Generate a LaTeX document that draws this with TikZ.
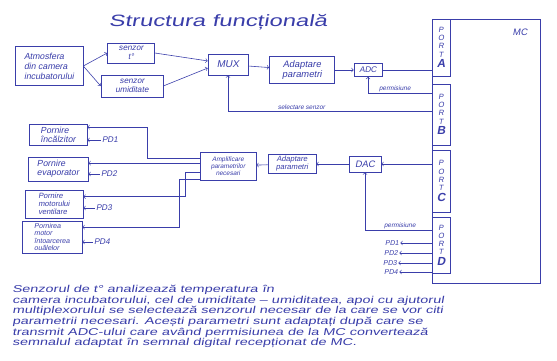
\documentclass[tikz,border=0pt]{standalone}
\usepackage{fontspec}
\setmainfont{Liberation Sans}[FakeSlant=0.18]
\newfontfamily\widehand{Liberation Sans}[FakeSlant=0.18,FakeStretch=1.45,Ligatures=TeX]
\usetikzlibrary{positioning, arrows}
\definecolor{ink}{RGB}{58,62,170}
\tikzstyle{blk}=[draw, inner sep=1pt, align=center, font=\fontsize{7}{7.5}\selectfont]
\tikzstyle{outbox}=[draw, inner sep=2pt, align=left, font=\fontsize{7.5}{8}\selectfont]
\tikzstyle{port}=[draw, fill=white, minimum width=0.54cm, inner sep=0pt, align=center, font=\fontsize{6.5}{7}\selectfont]
\tikzstyle{lbl}=[inner sep=1pt, font=\fontsize{5.5}{6}\selectfont]

\begin{document}
\begin{tikzpicture}[x=0.03cm, y=-0.03cm, > = to, color=ink, line width=0.5pt]
  \fill[white] (0,0) rectangle (557,360);
  \useasboundingbox (0,0) rectangle (557,360);
  \node (title) [font=\widehand\fontsize{14}{14}\selectfont] at (218,22) {Structura funcțională};

  % acquisition
  \node [blk, minimum width=2.04cm, minimum height=1.17cm, align=left, font=\fontsize{7.5}{8.5}\selectfont] (atm) at (49,66) {Atmosfera\\din camera\\incubatorului};
  \node [blk, minimum width=1.41cm, minimum height=0.6cm] (st) at (131,53) {senzor\\t°};
  \node [blk, minimum width=1.86cm, minimum height=0.66cm] (su) at (132,86) {senzor\\umiditate};
  \node [blk, minimum width=1.2cm, minimum height=0.63cm, font=\fontsize{8.5}{8.5}\selectfont] (mux) at (228,64.5) {MUX};
  \node [blk, minimum width=1.95cm, minimum height=0.81cm, font=\fontsize{8}{8.5}\selectfont] (adp1) at (302,70) {Adaptare\\parametri};
  \node [blk, minimum width=0.84cm, minimum height=0.39cm] (adc) at (368,70) {ADC};

  % MC and ports
  \node [draw, minimum width=3.24cm, minimum height=7.92cm] (mc) at (486,151) {};
  \node [lbl, font=\fontsize{8}{8}\selectfont] (mclbl) at (520,32) {MC};
  \node [port, minimum height=1.71cm] (pa) at (441,47.5) {P\\O\\R\\T\\[2pt]{\fontsize{10}{10}\selectfont\bfseries A}};
  \node [port, minimum height=1.83cm] (pb) at (441,114.5) {P\\O\\R\\T\\[2pt]{\fontsize{10}{10}\selectfont\bfseries B}};
  \node [port, minimum height=1.86cm] (pc) at (441,181) {P\\O\\R\\T\\[2pt]{\fontsize{10}{10}\selectfont\bfseries C}};
  \node [port, minimum height=1.68cm] (pd) at (441,245) {P\\O\\R\\T\\[2pt]{\fontsize{10}{10}\selectfont\bfseries D}};

  \draw[->] (atm.east) -- (st.west);
  \draw[->] (atm.east) -- (su.west);
  \draw[->] (st.east) -- (mux.170);
  \draw[->] (su.east) -- (mux.190);
  \draw[->] (mux) -- (adp1);
  \draw[->] (adp1) -- (adc);
  \draw (adc.east) -- (adc.east -| pa.west);
  \coordinate (permB) at (432,93);
  \coordinate (selB) at (432,111);
  \draw[->] (permB) -| node[lbl, above, pos=0.29] {permisiune} (adc.south);
  \draw[->] (selB) -| node[lbl, above, pos=0.32] {selectare senzor} (mux.south);

  % command
  \node [blk, minimum width=0.96cm, minimum height=0.48cm, font=\fontsize{8}{8}\selectfont] (dac) at (365,164) {DAC};
  \node [blk, minimum width=1.44cm, minimum height=0.57cm, font=\fontsize{6.5}{6.8}\selectfont] (adp2) at (292,164) {Adaptare\\parametri};
  \node [blk, minimum width=1.68cm, minimum height=0.84cm, font=\fontsize{5.5}{6}\selectfont] (amp) at (228,166) {Amplificare\\parametrilor\\necesari};
  \coordinate (permD) at (432,230);
  \draw[->] (pc.west |- dac.east) -- (dac.east);
  \draw[->] (permD) -| node[lbl, above, pos=0.24] {permisiune} (dac.south);
  \draw[->] (dac) -- (adp2);
  \draw[->] (adp2) -- (amp);

  \node [outbox, minimum width=1.74cm, minimum height=0.63cm] (o1) at (58,135) {Pornire\\încălzitor};
  \node [outbox, minimum width=1.8cm, minimum height=0.72cm] (o2) at (58,169) {Pornire\\evaporator};
  \node [outbox, minimum width=1.74cm, minimum height=0.84cm, font=\fontsize{6.5}{7}\selectfont] (o3) at (54,204) {Pornire\\motorului\\ventilare};
  \node [outbox, minimum width=1.8cm, minimum height=0.96cm, inner sep=1pt, font=\fontsize{6}{6.4}\selectfont] (o4) at (52,237) {Pornirea\\motor\\întoarcerea\\ouălelor};
  \draw[->] (amp.165) -- ++(-52,0) |- (o1.15);
  \draw[->] (amp.west |- o2.11) -- (o2.11);
  \draw[->] (amp.193) -- ++(-14,0) |- (o3.14);
  \draw[->] (amp.205) -- ++(-20,0) |- (o4.18);

  \node [lbl, font=\fontsize{7}{7}\selectfont] (pd1) at (110,140) {PD1};
  \node [lbl, font=\fontsize{7}{7}\selectfont] (pd2) at (109,174) {PD2};
  \node [lbl, font=\fontsize{7}{7}\selectfont] (pd3) at (104,208) {PD3};
  \node [lbl, font=\fontsize{7}{7}\selectfont] (pd4) at (102,242) {PD4};
  \draw[->] (pd1.west) -- (o1.east |- pd1.west);
  \draw[->] (pd2.west) -- (o2.east |- pd2.west);
  \draw[->] (pd3.west) -- (o3.east |- pd3.west);
  \draw[->] (pd4.west) -- (o4.east |- pd4.west);

  % port D outputs
  \node [lbl, font=\fontsize{6}{6}\selectfont] (q1) at (392,243) {PD1};
  \node [lbl, font=\fontsize{6}{6}\selectfont] (q2) at (391,253) {PD2};
  \node [lbl, font=\fontsize{6}{6}\selectfont] (q3) at (390,263) {PD3};
  \node [lbl, font=\fontsize{6}{6}\selectfont] (q4) at (391,272) {PD4};
  \draw[->] (pd.west |- q1.east) -- (q1.east);
  \draw[->] (pd.west |- q2.east) -- (q2.east);
  \draw[->] (pd.west |- q3.east) -- (q3.east);
  \draw[->] (pd.west |- q4.east) -- (q4.east);

  % description
  \node [anchor=north west, inner sep=0pt, align=left, font=\widehand\fontsize{8.5}{9.05}\selectfont] (desc) at (12,285) {Senzorul de t° analizează temperatura în\\camera incubatorului, cel de umiditate – umiditatea, apoi cu ajutorul\\multiplexorului se selectează senzorul necesar de la care se vor citi\\parametrii necesari. Acești parametri sunt adaptați după care se\\transmit ADC-ului care având permisiunea de la MC convertează\\semnalul adaptat în semnal digital recepționat de MC.};
\end{tikzpicture}
\end{document}
